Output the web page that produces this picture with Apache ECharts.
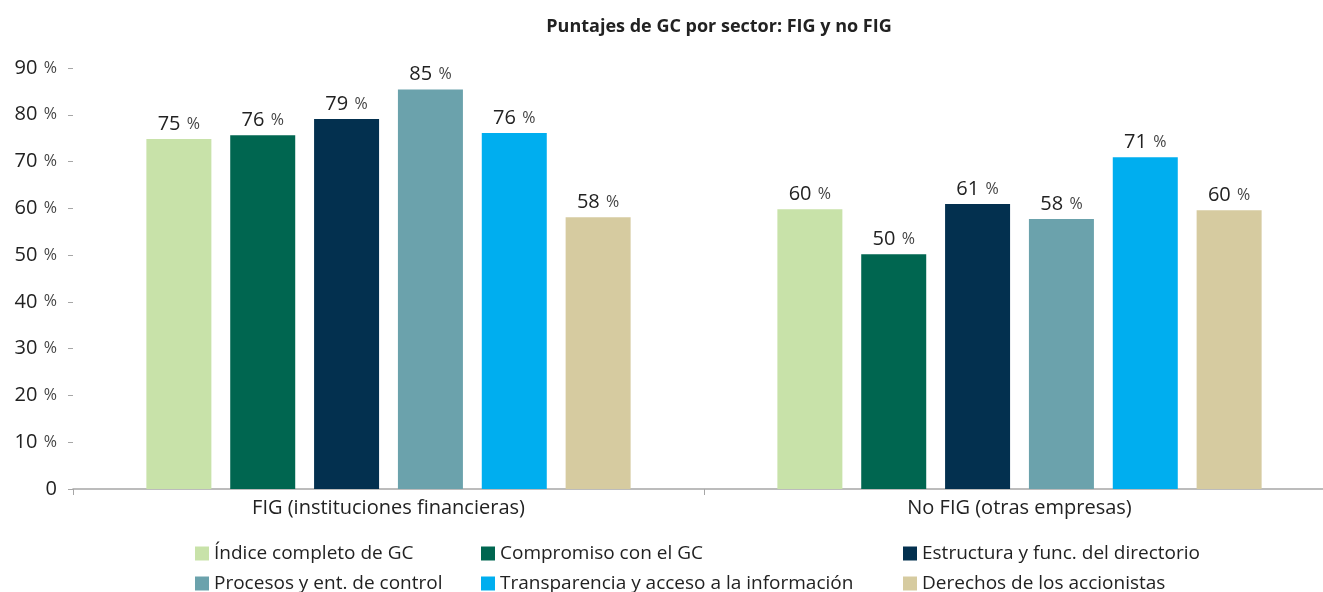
<!DOCTYPE html>
<html>
<head>
<meta charset="utf-8">
<script src="https://cdn.jsdelivr.net/npm/echarts@6/dist/echarts.min.js"></script>
<style>
  html, body { margin: 0; padding: 0; background: #fff; overflow: hidden; }
  #chart { width: 1336px; height: 592px; }
</style>
</head>
<body>
<div id="chart"></div>
<script>
var categories = ['FIG (instituciones financieras)', 'No FIG (otras empresas)'];
var seriesNames = [
    'Índice completo de GC',
    'Compromiso con el GC',
    'Estructura y func. del directorio',
    'Procesos y ent. de control',
    'Transparencia y acceso a la información',
    'Derechos de los accionistas'
];
var indiceValues = [74.8, 59.8];
var compromisoValues = [75.6, 50.2];
var estructuraValues = [79.1, 60.9];
var procesosValues = [85.4, 57.7];
var transparenciaValues = [76.1, 70.9];
var derechosValues = [58.1, 59.6];

var colors = ['#c8e2a9', '#006650', '#03304f', '#6ba2ac', '#00aeef', '#d6cba0'];
var font = 'Open Sans';

var chart = echarts.init(document.getElementById('chart'));

var allValues = [indiceValues, compromisoValues, estructuraValues, procesosValues, transparenciaValues, derechosValues];

/* Number + smaller percent sign, shared by bar labels and y axis. */
var pctRich = {
    n: { fontFamily: font, fontSize: 20, color: '#222' },
    p: { fontFamily: font, fontSize: 16, color: '#444', padding: [0, 0, 0, 3] }
};

/* Build series from the arrays. */
var series = seriesNames.map(function (name, i) {
    return {
        name: name,
        type: 'bar',
        data: allValues[i],
        barWidth: 65,
        barGap: '29%',
        itemStyle: { color: colors[i] },
        label: {
            show: true,
            position: 'top',
            distance: 5,
            formatter: function (p) {
                return '{n|' + Math.round(p.value) + '} {p|%}';
            },
            rich: pctRich
        }
    };
});

/* Legend: one small legend per item, placed in a 3 x 2 grid. */
var legendLeft = [190, 476, 898, 190, 476, 898];
var legendTop = [539, 539, 539, 569, 569, 569];
var legends = seriesNames.map(function (name, i) {
    return {
        data: [name],
        left: legendLeft[i],
        top: legendTop[i],
        itemWidth: 14,
        itemHeight: 14,
        icon: 'rect',
        textStyle: { fontFamily: font, fontSize: 19, color: '#222' }
    };
});

var option = {
    animation: false,
    color: colors,
    title: {
        text: 'Puntajes de GC por sector: FIG y no FIG',
        left: 714,
        textAlign: 'center',
        top: 13,
        textStyle: { fontFamily: font, fontSize: 18, fontWeight: 'bold', color: '#222' }
    },
    grid: {
        left: 73,
        right: 1,
        top: 68,
        bottom: 103
    },
    legend: legends,
    xAxis: [
        {
            type: 'category',
            data: categories,
            axisLine: { lineStyle: { color: '#a6a6a6', width: 1.5 } },
            axisTick: { show: true, length: 6, lineStyle: { color: '#a6a6a6' } },
            axisLabel: { fontFamily: font, fontSize: 20, color: '#222', margin: 9 }
        }
    ],
    yAxis: [
        {
            type: 'value',
            min: 0,
            max: 90,
            interval: 10,
            splitLine: { show: false },
            axisLine: { show: false },
            axisTick: { show: true, length: 5, lineStyle: { color: '#a6a6a6' } },
            axisLabel: {
                margin: 16,
                formatter: function (v) {
                    if (v === 0) return '{n|0}';
                    return '{n|' + v + '} {p|%}';
                },
                rich: pctRich
            }
        }
    ],
    series: series
};
chart.setOption(option);

/* Responsiveness. */
window.addEventListener('resize', function () {
    chart.resize();
});
</script>
</body>
</html>
